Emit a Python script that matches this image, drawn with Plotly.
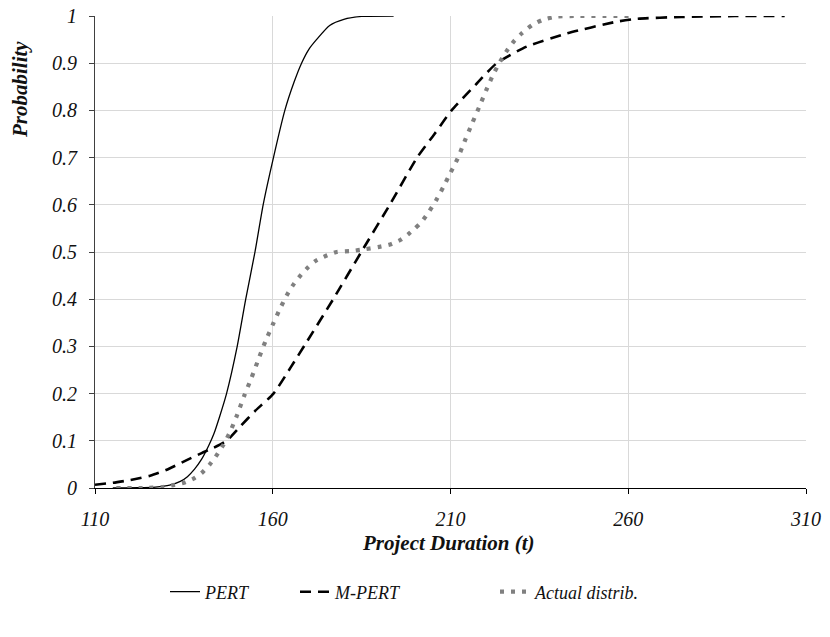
import plotly.graph_objects as go

# ---- data ----
pert_x = [115, 122, 127, 131, 134, 136, 138, 140, 142, 143.5, 145, 147, 150, 152.4, 155,
          157.3, 160.2, 163.4, 166, 168.1, 170.2, 172.3, 176, 180, 185, 194]
pert_y = [0, 0.0005, 0.002, 0.006, 0.014, 0.024, 0.04, 0.061, 0.09, 0.116, 0.15, 0.2, 0.3, 0.4, 0.5,
          0.6, 0.7, 0.8, 0.86, 0.9, 0.93, 0.95, 0.98, 0.993, 0.999, 1.0]

mpert_x = [110, 115, 120, 125.5, 130, 135.8, 140, 143.3, 147, 150.8, 155, 160.2, 165, 169.6, 177,
           184.9, 192.9, 200.6, 205.5, 210.3, 217.4, 223, 231.4, 242.7, 256.8, 262.4, 275, 290, 304]
mpert_y = [0.007, 0.011, 0.017, 0.026, 0.038, 0.059, 0.074, 0.085, 0.1, 0.13, 0.163, 0.2, 0.255, 0.31, 0.4,
           0.5, 0.6, 0.7, 0.75, 0.8, 0.857, 0.9, 0.935, 0.963, 0.988, 0.994, 0.998, 1.0, 1.0]

actual_x = [116, 124, 129, 132, 135, 138, 140.2, 142.2, 144, 146, 148, 150, 152, 154, 156, 158, 160,
            162, 164, 166, 168, 170, 172, 175, 178, 182, 186, 190, 193, 196, 198, 200, 202, 204,
            206, 208, 210, 212, 214, 216, 218, 220, 222, 224, 226, 228, 230, 233, 236, 240, 245, 262]
actual_y = [0, 0, 0.002, 0.006, 0.011, 0.021, 0.033, 0.049, 0.067, 0.09, 0.119, 0.155, 0.196, 0.233,
            0.273, 0.312, 0.346, 0.379, 0.409, 0.433, 0.452, 0.468, 0.481, 0.492, 0.5, 0.502, 0.506,
            0.511, 0.516, 0.526, 0.537, 0.55, 0.565, 0.586, 0.61, 0.638, 0.668, 0.698, 0.735, 0.771,
            0.806, 0.842, 0.876, 0.904, 0.928, 0.948, 0.963, 0.981, 0.992, 0.999, 1.0, 1.0]

x_ticks = [110, 160, 210, 260, 310]
y_ticks = [0, 0.1, 0.2, 0.3, 0.4, 0.5, 0.6, 0.7, 0.8, 0.9, 1]
series_names = ["PERT", "M-PERT", "Actual distrib."]
x_title = "Project Duration (t)"
y_title = "Probability"

# ---- figure ----
W, H = 830, 637
ML, MR, MT, MB = 95, 24, 16, 149
PW, PH = W - ML - MR, H - MT - MB

def px_x(p):
    return (p - ML) / PW

def px_y(p):
    return (H - MB - p) / PH

FONT = "Times New Roman"
TXT = "#111111"

fig = go.Figure()
fig.add_trace(go.Scatter(x=pert_x, y=pert_y, mode="lines", name=series_names[0],
                         line=dict(color="#000000", width=1.3, shape="spline", smoothing=0.6),
                         legend="legend"))
fig.add_trace(go.Scatter(x=mpert_x, y=mpert_y, mode="lines", name=series_names[1],
                         line=dict(color="#000000", width=2.6, dash="11px,7px", shape="spline", smoothing=0.6),
                         legend="legend2"))
fig.add_trace(go.Scatter(x=actual_x, y=actual_y, mode="lines", name=series_names[2],
                         line=dict(color="#808080", width=4.2, dash="4px,7px", shape="spline", smoothing=0.6),
                         legend="legend3"))

leg_common = dict(orientation="h", xanchor="left", yanchor="middle",
                  bgcolor="rgba(0,0,0,0)", borderwidth=0,
                  font=dict(family=FONT, size=18, color=TXT, style="italic"))
leg_y = px_y(592)

fig.update_layout(
    template="none",
    width=W, height=H,
    margin=dict(l=ML, r=MR, t=MT, b=MB, autoexpand=False),
    paper_bgcolor="white", plot_bgcolor="white",
    showlegend=True,
    legend=dict(x=px_x(165), y=leg_y, **leg_common),
    legend2=dict(x=px_x(295), y=leg_y, **leg_common),
    legend3=dict(x=px_x(495), y=leg_y, **leg_common),
    xaxis=dict(range=[110, 310], tickvals=x_ticks, ticktext=[str(v) for v in x_ticks],
               showgrid=True, gridcolor="#d9d9d9", gridwidth=1, automargin=False,
               showline=True, linecolor="#000000", linewidth=1,
               ticks="outside", ticklen=5, tickcolor="#000000",
               ticklabelstandoff=8, zeroline=False,
               tickfont=dict(family=FONT, size=20, color=TXT, style="italic")),
    yaxis=dict(range=[0, 1], tickvals=y_ticks, ticktext=[("%g" % v) for v in y_ticks],
               showgrid=True, gridcolor="#d9d9d9", gridwidth=1, automargin=False,
               showline=True, linecolor="#404040", linewidth=1.2,
               ticks="outside", ticklen=5, tickcolor="#404040",
               ticklabelstandoff=8, zeroline=False,
               tickfont=dict(family=FONT, size=20, color=TXT, style="italic")),
    annotations=[
        dict(text=y_title, xref="paper", yref="paper", x=px_x(20), y=px_y(90),
             xanchor="center", yanchor="middle", textangle=-90, showarrow=False,
             font=dict(family=FONT, size=21, color=TXT, style="italic", weight="bold")),
        dict(text=x_title, xref="paper", yref="paper", x=px_x(448), y=px_y(543),
             xanchor="center", yanchor="middle", showarrow=False,
             font=dict(family=FONT, size=21, color=TXT, style="italic", weight="bold")),
    ],
)

fig.write_html("out.html", config={"displayModeBar": False},
               post_script="document.body.style.margin='0';")
